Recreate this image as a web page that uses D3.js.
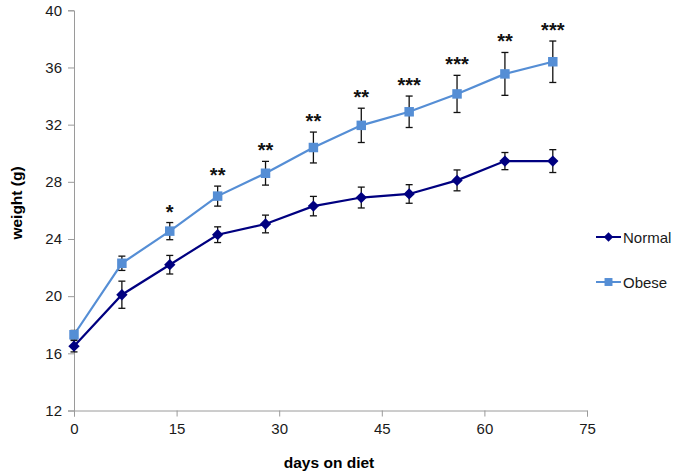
<!DOCTYPE html>
<html><head><meta charset="utf-8">
<script src="https://cdn.jsdelivr.net/npm/d3@7"></script>
<style>body{margin:0;background:#fff}svg{display:block}text{font-family:"Liberation Sans",Arial,sans-serif}</style>
</head><body><svg id="c" width="675" height="476"></svg>
<script>
const days = [0,7,14,21,28,35,42,49,56,63,70];
const normalMean = [16.5,20.1,22.2,24.3,25.05,26.3,26.9,27.15,28.1,29.45,29.45];
const normalErr  = [0.4,0.95,0.65,0.55,0.62,0.68,0.73,0.65,0.73,0.6,0.8];
const obeseMean  = [17.3,22.3,24.55,27.0,28.6,30.4,31.95,32.9,34.15,35.55,36.4];
const obeseErr   = [0.3,0.5,0.6,0.7,0.83,1.08,1.2,1.1,1.3,1.5,1.45];
const signif     = ["","","*","**","**","**","**","***","***","**","***"];
const xTicks = [0,15,30,45,60,75];
const yTicks = [12,16,20,24,28,32,36,40];
const seriesNames = ["Normal","Obese"];
const colors = ["#000080","#558ED5"];

const svg = d3.select("#c");
const x = d3.scaleLinear().domain([0,75]).range([74,587]);
const y = d3.scaleLinear().domain([12,40]).range([410.5,10.3]);

const xAxis = svg.append("g").attr("transform","translate(0,"+y(12)+")")
  .call(d3.axisBottom(x).tickValues(xTicks).tickSize(6).tickPadding(7));
const yAxis = svg.append("g").attr("transform","translate("+x(0)+",0)")
  .call(d3.axisLeft(y).tickValues(yTicks).tickSize(6).tickPadding(6));
[xAxis,yAxis].forEach(a=>{
  a.selectAll("path,line").attr("stroke","#9a9a9a").attr("stroke-width",1);
  a.selectAll("text").attr("fill","#1a1a1a").style("font-size","15px").style("font-family","'Liberation Sans',Arial,sans-serif");
});

svg.append("text").attr("x",329).attr("y",468).attr("text-anchor","middle")
  .style("font-weight","bold").style("font-size","15.5px").text("days on diet");
svg.append("text").attr("transform","translate(22,203) rotate(-90)").attr("text-anchor","middle")
  .style("font-weight","bold").style("font-size","15.5px").text("weight (g)");

const series = [
  {name:seriesNames[0], mean:normalMean, err:normalErr, color:colors[0], shape:d3.symbolSquare, size:64, rot:45},
  {name:seriesNames[1], mean:obeseMean, err:obeseErr, color:colors[1], shape:d3.symbolSquare, size:90, rot:0}
];

const line = d3.line().x(d=>x(d[0])).y(d=>y(d[1]));
series.forEach(s=>{
  const pts = days.map((d,i)=>[d,s.mean[i],s.err[i]]);
  svg.append("path").datum(pts).attr("d",line).attr("fill","none").attr("stroke",s.color).attr("stroke-width",2.2);
});
series.forEach(s=>{
  const pts = days.map((d,i)=>[d,s.mean[i],s.err[i]]);
  const g = svg.append("g");
  pts.forEach(p=>{
    const cx = x(p[0]);
    g.append("line").attr("x1",cx).attr("x2",cx).attr("y1",y(p[1]+p[2])).attr("y2",y(p[1]-p[2])).attr("stroke","#111").attr("stroke-width",1.3);
    [p[1]+p[2],p[1]-p[2]].forEach(v=>g.append("line").attr("x1",cx-3.5).attr("x2",cx+3.5).attr("y1",y(v)).attr("y2",y(v)).attr("stroke","#111").attr("stroke-width",1.3));
  });
  g.selectAll("path.m").data(pts).enter().append("path")
    .attr("d",d3.symbol().type(s.shape).size(s.size))
    .attr("transform",d=>"translate("+x(d[0])+","+y(d[1])+") rotate("+s.rot+")")
    .attr("fill",s.color);
});

// significance stars
days.forEach((d,i)=>{
  if(!signif[i]) return;
  svg.append("text").attr("x",x(d)).attr("y",y(obeseMean[i]+obeseErr[i])-4)
    .attr("text-anchor","middle").style("font-size","20px").style("font-weight","bold").attr("fill","#111").text(signif[i]);
});

// legend
series.forEach((s,i)=>{
  const ly = 237 + i*45;
  const g = svg.append("g");
  g.append("line").attr("x1",596).attr("x2",621).attr("y1",ly).attr("y2",ly).attr("stroke",s.color).attr("stroke-width",2);
  g.append("path").attr("d",d3.symbol().type(s.shape).size(s.size*0.7)).attr("transform","translate(608.5,"+ly+") rotate("+s.rot+")").attr("fill",s.color);
  g.append("text").attr("x",623).attr("y",ly+5.5).style("font-size","15px").attr("fill","#1a1a1a").text(s.name);
});
</script></body></html>
